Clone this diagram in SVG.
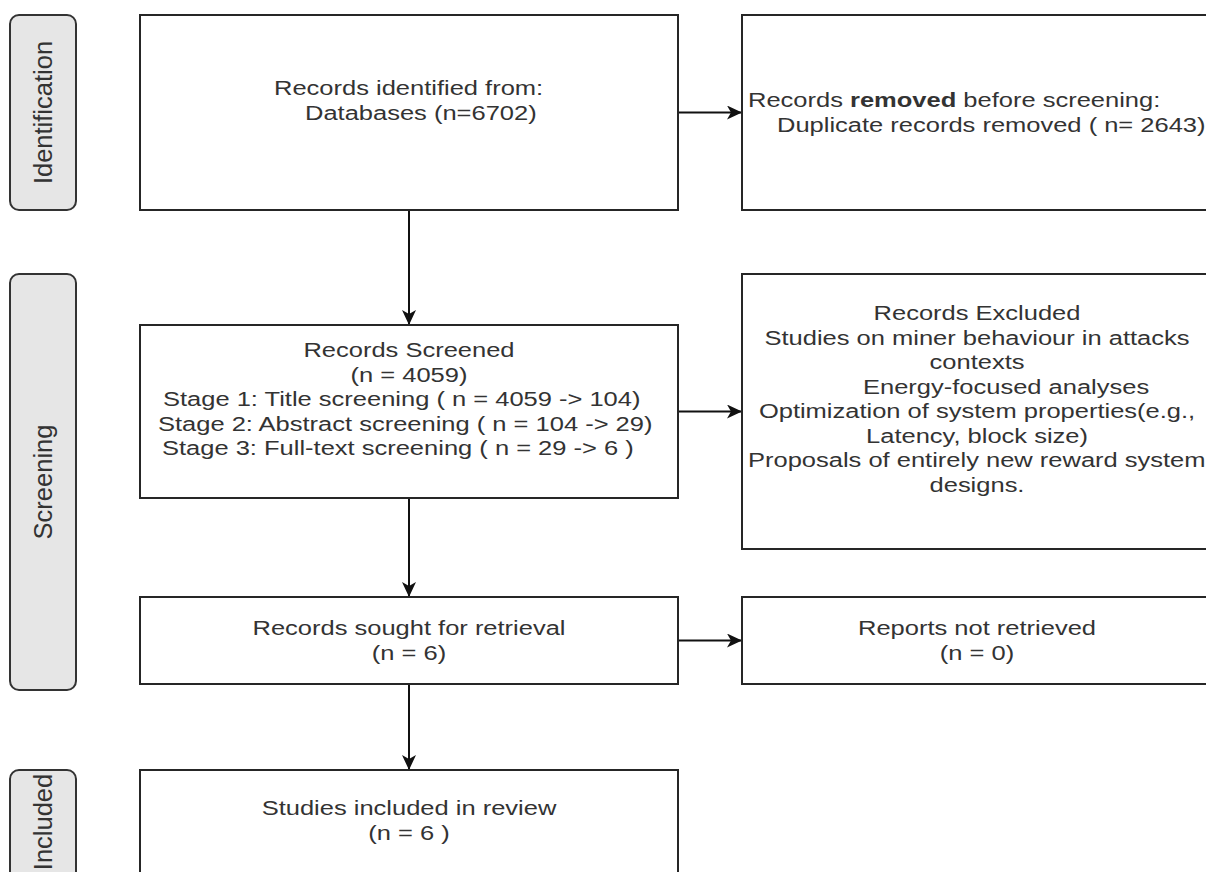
<svg xmlns="http://www.w3.org/2000/svg" width="1206" height="872" viewBox="0 0 1206 872">
<style>
.box{fill:#fff;stroke:#262626;stroke-width:2}
.pill{fill:#e6e6e6;stroke:#333;stroke-width:2}
.t{font-family:"Liberation Sans",Arial,sans-serif;font-size:25.5px;fill:#333}
.c{text-anchor:middle}
.edge{fill:none;stroke:#111;stroke-width:2}
</style>
<defs>
<marker id="arr" markerUnits="userSpaceOnUse" markerWidth="20" markerHeight="20" refX="15" refY="7" orient="auto">
<path d="M0,0 L15,7 L0,14 L4,7 Z" fill="#111"/>
</marker>
</defs>
<rect width="1206" height="872" fill="#fff"/>

<g id="connectors">
<line class="edge" x1="409" y1="210" x2="409" y2="325" marker-end="url(#arr)"/>
<line class="edge" x1="409" y1="498" x2="409" y2="597" marker-end="url(#arr)"/>
<line class="edge" x1="409" y1="684" x2="409" y2="770" marker-end="url(#arr)"/>
<line class="edge" x1="678" y1="112.5" x2="742" y2="112.5" marker-end="url(#arr)"/>
<line class="edge" x1="678" y1="411.5" x2="742" y2="411.5" marker-end="url(#arr)"/>
<line class="edge" x1="678" y1="640.5" x2="742" y2="640.5" marker-end="url(#arr)"/>
</g>

<g id="phase-identification">
<rect class="pill" x="10" y="15" width="66" height="195" rx="9"/>
<text class="t c" transform="translate(52,112.5) rotate(-90)">Identification</text>
</g>
<g id="phase-screening">
<rect class="pill" x="10" y="274" width="66" height="416" rx="9"/>
<text class="t c" transform="translate(52,482) rotate(-90)">Screening</text>
</g>
<g id="phase-included">
<rect class="pill" x="10" y="770" width="66" height="110" rx="9"/>
<text class="t c" transform="translate(52,822) rotate(-90)">Included</text>
</g>

<g id="records-identified">
<rect class="box" x="140" y="15" width="538" height="195"/>
<text class="t" transform="translate(274,95) scale(1,0.8)">Records identified from:</text>
<text class="t" transform="translate(305,119.5) scale(1,0.8)">Databases (n=6702)</text>
</g>
<g id="records-removed">
<rect class="box" x="742" y="15" width="472" height="195"/>
<text class="t" transform="translate(748,107) scale(1,0.8)">Records <tspan font-weight="bold">removed</tspan> before screening:</text>
<text class="t" transform="translate(777,131.5) scale(1,0.8)">Duplicate records removed ( n= 2643)</text>
</g>

<g id="records-screened">
<rect class="box" x="140" y="325" width="538" height="173"/>
<text class="t c" transform="translate(409,357) scale(1,0.8)">Records Screened</text>
<text class="t c" transform="translate(409,381.5) scale(1,0.8)">(n = 4059)</text>
<text class="t" transform="translate(163,406) scale(1,0.8)">Stage 1: Title screening ( n = 4059 -&gt; 104)</text>
<text class="t" transform="translate(158,430.5) scale(1,0.8)">Stage 2: Abstract screening ( n = 104 -&gt; 29)</text>
<text class="t" transform="translate(162,455) scale(1,0.8)">Stage 3: Full-text screening ( n = 29 -&gt; 6 )</text>
</g>
<g id="records-excluded">
<rect class="box" x="742" y="274" width="472" height="275"/>
<text class="t c" transform="translate(977,320) scale(1,0.8)">Records Excluded</text>
<text class="t c" transform="translate(977,344.5) scale(1,0.8)">Studies on miner behaviour in attacks</text>
<text class="t c" transform="translate(977,369) scale(1,0.8)">contexts</text>
<text class="t" transform="translate(863,393.5) scale(1,0.8)">Energy-focused analyses</text>
<text class="t c" transform="translate(977,418) scale(1,0.8)">Optimization of system properties(e.g.,</text>
<text class="t c" transform="translate(977,442.5) scale(1,0.8)">Latency, block size)</text>
<text class="t" transform="translate(748,467) scale(1,0.8)">Proposals of entirely new reward system</text>
<text class="t c" transform="translate(977,491.5) scale(1,0.8)">designs.</text>
</g>

<g id="records-sought">
<rect class="box" x="140" y="597" width="538" height="87"/>
<text class="t c" transform="translate(409,635) scale(1,0.8)">Records sought for retrieval</text>
<text class="t c" transform="translate(409,659.5) scale(1,0.8)">(n = 6)</text>
</g>
<g id="reports-not-retrieved">
<rect class="box" x="742" y="597" width="472" height="87"/>
<text class="t c" transform="translate(977,635) scale(1,0.8)">Reports not retrieved</text>
<text class="t c" transform="translate(977,659.5) scale(1,0.8)">(n = 0)</text>
</g>

<g id="studies-included">
<rect class="box" x="140" y="770" width="538" height="110"/>
<text class="t c" transform="translate(409,815) scale(1,0.8)">Studies included in review</text>
<text class="t c" transform="translate(409,839.5) scale(1,0.8)">(n = 6 )</text>
</g>
</svg>
